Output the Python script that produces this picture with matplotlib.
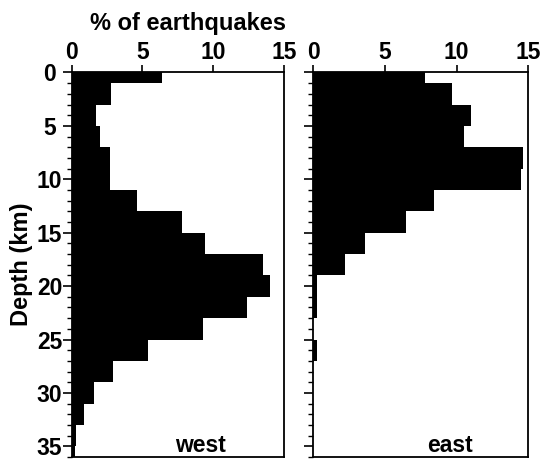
import numpy as np
import matplotlib
matplotlib.use("Agg")
import matplotlib.pyplot as plt
from matplotlib.ticker import MultipleLocator

plt.rcParams['font.family'] = ['Liberation Sans', 'DejaVu Sans']
plt.rcParams['font.weight'] = 'bold'

# 2-km depth bins centred on even depths (km)
depth_centers = [0, 2, 4, 6, 8, 10, 12, 14, 16, 18, 20, 22, 24, 26, 28, 30, 32, 34, 36]

# Percent of earthquakes per depth bin
west_pct = [6.4, 2.8, 1.7, 2.0, 2.7, 2.7, 4.6, 7.8, 9.4, 13.5, 14.0, 12.4, 9.3,
            5.4, 2.9, 1.6, 0.9, 0.3, 0.25]
east_pct = [7.8, 9.7, 11.0, 10.5, 14.6, 14.5, 8.4, 6.5, 3.6, 2.2, 0.25, 0.25, 0.0,
            0.25, 0.0, 0.0, 0.0, 0.0, 0.0]

panel_names = ['west', 'east']
x_ticks = [0, 5, 10, 15]
y_ticks = [0, 5, 10, 15, 20, 25, 30, 35]

fig = plt.figure(figsize=(5.42, 4.68), dpi=100)
ax_w = fig.add_axes([0.1323, 0.0235, 0.3917, 0.8216])
ax_e = fig.add_axes([0.5780, 0.0235, 0.3967, 0.8216])

for ax, vals, name, tx in [(ax_w, west_pct, panel_names[0], 0.609),
                           (ax_e, east_pct, panel_names[1], 0.636)]:
    ax.barh(depth_centers, vals, height=2.0, color='black', edgecolor='none')
    ax.set_xlim(0, 15)
    ax.set_ylim(36, 0)
    ax.xaxis.tick_top()
    ax.set_xticks(x_ticks)
    ax.set_yticks(y_ticks)
    ax.yaxis.set_minor_locator(MultipleLocator(1))
    ax.tick_params(axis='x', which='major', direction='out', length=5, width=1.2,
                   labelsize=16.5, pad=1, top=True, bottom=False)
    ax.tick_params(axis='y', which='major', direction='out', length=6.5, width=1.2,
                   labelsize=16.5, pad=9.5)
    ax.tick_params(axis='y', which='minor', direction='out', length=3.5, width=1.0)
    for s in ax.spines.values():
        s.set_linewidth(1.3)
    ax.text(tx, 0.012, name, transform=ax.transAxes, ha='center', va='baseline',
            fontsize=16.5, fontweight='bold')

for lbl in ax_w.get_yticklabels():
    lbl.set_horizontalalignment('center')
ax_e.set_yticklabels([])
ax_w.set_ylabel('Depth (km)', fontsize=17, fontweight='bold')
ax_w.yaxis.set_label_coords(-0.182, 0.5)
fig.text(0.346, 0.950, '% of earthquakes', ha='center', va='center',
         fontsize=17, fontweight='bold')

fig.savefig('out.png', dpi=100)
